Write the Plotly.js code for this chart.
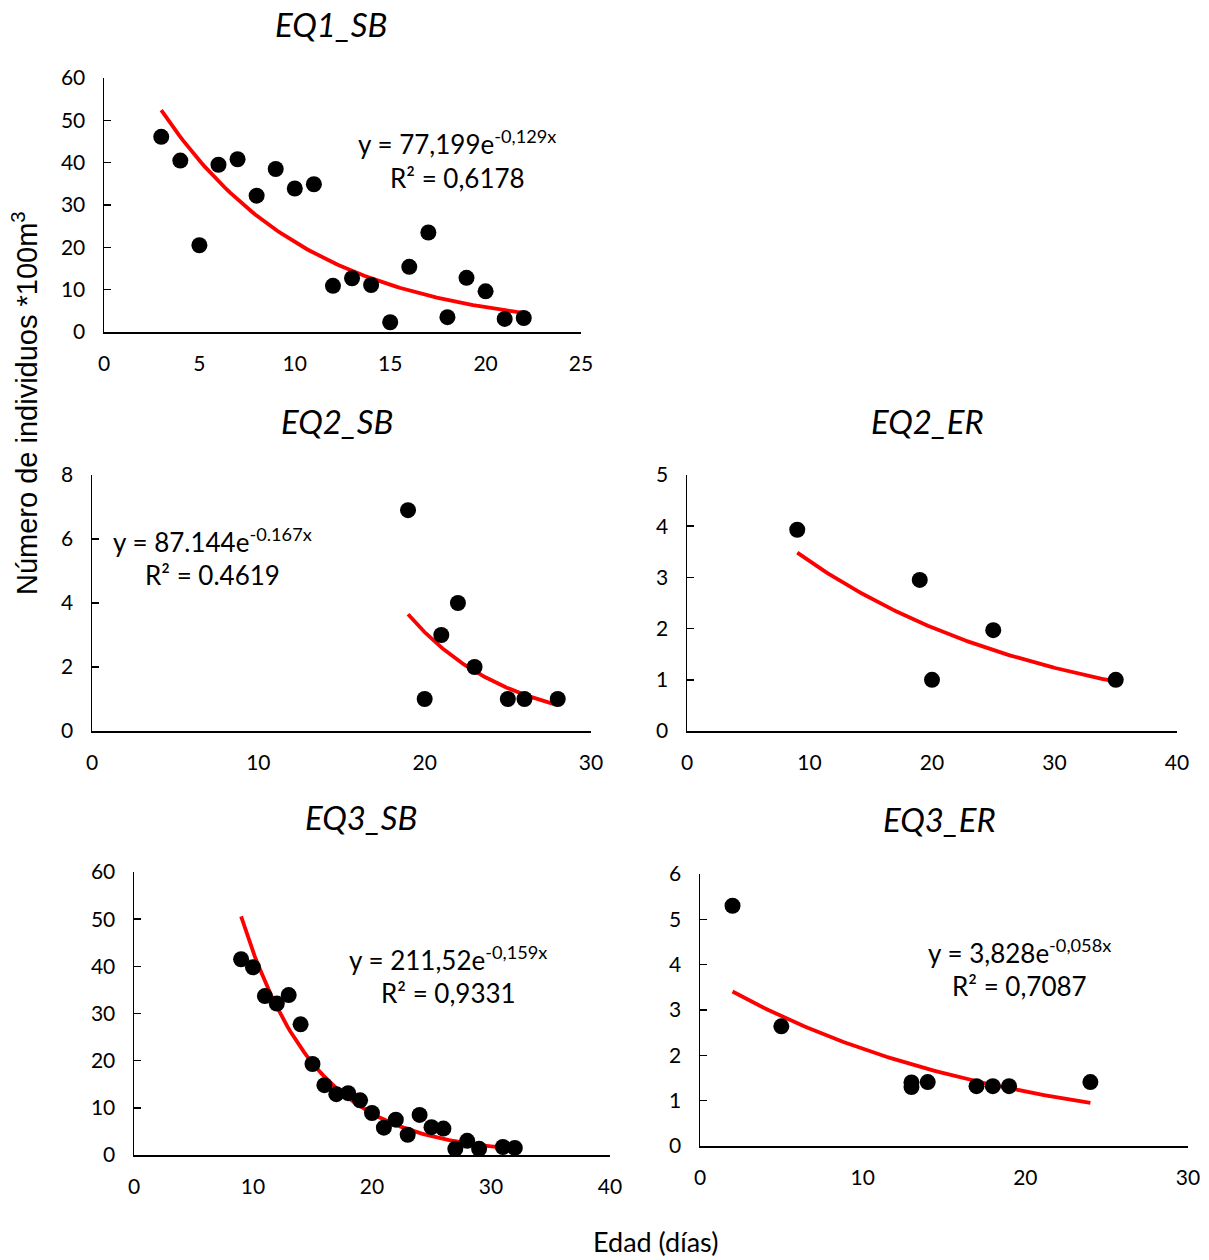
<!DOCTYPE html>
<html>
<head>
<meta charset="utf-8">
<script src="https://cdn.plot.ly/plotly-3.0.1.min.js"></script>
<style>html,body{margin:0;padding:0;background:#fff;}#chart{width:1209px;height:1260px;}</style>
</head>
<body>
<div id="chart"></div>
<script>
// ---- Data ----
const eq1sbX = [3,4,5,6,7,8,9,10,11,12,13,14,15,16,17,18,19,20,21,22];
const eq1sbY = [46.1,40.5,20.5,39.5,40.8,32.2,38.5,33.9,34.9,10.9,12.7,11.1,2.3,15.4,23.5,3.5,12.8,9.6,3.1,3.3];

const eq2sbX = [19,20,21,22,23,25,26,28];
const eq2sbY = [6.9,1,3,4,2,1,1,1];

const eq2erX = [9,19,20,25,35];
const eq2erY = [3.93,2.95,1,1.97,1];

const eq3sbX = [9,10,11,12,13,14,15,16,17,18,19,20,21,22,23,24,25,26,27,28,29,31,32];
const eq3sbY = [41.5,39.8,33.7,32.1,33.9,27.7,19.3,14.8,12.9,13.1,11.6,8.9,5.8,7.5,4.3,8.5,5.9,5.6,1.3,3.0,1.3,1.7,1.5];

const eq3erX = [2,5,13,13,14,17,18,19,24];
const eq3erY = [5.3,2.64,1.30,1.40,1.41,1.32,1.32,1.32,1.41];

// Trendline coefficients (y = A e^(B x)) as printed on the chart
const fitA = {eq1sb: 77.199, eq2sb: 87.144, eq3sb: 211.52, eq3er: 3.828};
const fitB = {eq1sb: -0.129, eq2sb: -0.167, eq3sb: -0.159, eq3er: -0.058};

const titles = ['EQ1_SB','EQ2_SB','EQ2_ER','EQ3_SB','EQ3_ER'];
const eqTexts = ['y = 77,199e<sup>-0,129x</sup>','y = 87.144e<sup>-0.167x</sup>','y = 211,52e<sup>-0,159x</sup>','y = 3,828e<sup>-0,058x</sup>'];
const r2Texts = ['R² = 0,6178','R² = 0.4619','R² = 0,9331','R² = 0,7087'];
const yTitle = 'Número de individuos *100m<sup>3</sup>';
const xTitle = 'Edad (días)';

// exponential least squares fit (log-linear), as Excel does
function expFit(xs, ys){
  const n = xs.length; const ls = ys.map(Math.log);
  const mx = xs.reduce((a,b)=>a+b,0)/n, ml = ls.reduce((a,b)=>a+b,0)/n;
  let sxy=0, sxx=0;
  for(let i=0;i<n;i++){sxy+=(xs[i]-mx)*(ls[i]-ml); sxx+=(xs[i]-mx)*(xs[i]-mx);}
  const b = sxy/sxx; return {A: Math.exp(ml-b*mx), B: b};
}
const fit2er = expFit(eq2erX, eq2erY);

function curve(xs, A, B){
  const x0 = Math.min(...xs), x1 = Math.max(...xs);
  const cx=[], cy=[];
  for(let i=0;i<=100;i++){const x=x0+(x1-x0)*i/100; cx.push(x); cy.push(A*Math.exp(B*x));}
  return {cx, cy};
}

const W = 1209, H = 1260;
const px = v => v/W, py = v => 1 - v/H;

const panels = [
  {x: eq1sbX, y: eq1sbY, A: fitA.eq1sb, B: fitB.eq1sb, xr:[0,25], xd:5, yr:[0,60], yd:10, dom:[104,581,78,332]},
  {x: eq2sbX, y: eq2sbY, A: fitA.eq2sb, B: fitB.eq2sb, xr:[0,30], xd:10, yr:[0,8], yd:2, dom:[92,591,475,731]},
  {x: eq2erX, y: eq2erY, A: fit2er.A, B: fit2er.B, xr:[0,40], xd:10, yr:[0,5], yd:1, dom:[687,1177,475,731]},
  {x: eq3sbX, y: eq3sbY, A: fitA.eq3sb, B: fitB.eq3sb, xr:[0,40], xd:10, yr:[0,60], yd:10, dom:[134,610,872,1155]},
  {x: eq3erX, y: eq3erY, A: fitA.eq3er, B: fitB.eq3er, xr:[0,30], xd:10, yr:[0,6], yd:1, dom:[700,1188,874,1146]}
];

const FONT = 'Lato, "Open Sans", sans-serif';
const traces = [];
const layout = {
  width: W, height: H, margin:{l:0,r:0,t:0,b:0},
  paper_bgcolor:'#fff', plot_bgcolor:'#fff', showlegend:false,
  font:{family: FONT, color:'#000', size:20},
  annotations: []
};

panels.forEach((p, i) => {
  const n = i===0 ? '' : String(i+1);
  const c = curve(p.x, p.A, p.B);
  traces.push({type:'scatter', mode:'lines', x:c.cx, y:c.cy, xaxis:'x'+n, yaxis:'y'+n,
    line:{color:'#ff0000', width:3.8}, hoverinfo:'skip'});
  traces.push({type:'scatter', mode:'markers', x:p.x, y:p.y, xaxis:'x'+n, yaxis:'y'+n,
    marker:{color:'#000', size:16}, cliponaxis:false});
  const [l, r, t, b] = p.dom;
  layout['xaxis'+n] = {domain:[px(l), px(r)], range:p.xr, dtick:p.xd, tick0:0, anchor:'y'+n,
    showline:true, linecolor:'#000', linewidth:1.5, showgrid:false, zeroline:false,
    ticks:'', ticklabelstandoff:12, tickfont:{family:FONT, size:21, color:'#000'}, fixedrange:true};
  layout['yaxis'+n] = {domain:[py(b), py(t)], range:p.yr, dtick:p.yd, tick0:0, anchor:'x'+n,
    showline:true, linecolor:'#000', linewidth:1.5, showgrid:false, zeroline:false,
    ticks:'inside', ticklen:7, tickwidth:1.5, tickcolor:'#000', ticklabelstandoff:13,
    tickfont:{family:FONT, size:21, color:'#000'}, fixedrange:true};
});

// panel titles
const titlePos = [[331,24],[337,421],[927,421],[361,817],[939,819]];
titles.forEach((t,i)=>{
  layout.annotations.push({xref:'paper', yref:'paper', x:px(titlePos[i][0]), y:py(titlePos[i][1]),
    xanchor:'center', yanchor:'middle', showarrow:false, text:'<i>'+t+'</i>',
    font:{family:FONT, size:33, color:'#000'}});
});

// equations
const eqPos = [[457,142,178],[212,540,575],[448,958,993],[1019,951,986]];
eqTexts.forEach((t,i)=>{
  layout.annotations.push({xref:'paper', yref:'paper', x:px(eqPos[i][0]), y:py(eqPos[i][1]),
    xanchor:'center', yanchor:'middle', showarrow:false, text:t, font:{family:FONT, size:26, color:'#000'}});
  layout.annotations.push({xref:'paper', yref:'paper', x:px(eqPos[i][0]), y:py(eqPos[i][2]),
    xanchor:'center', yanchor:'middle', showarrow:false, text:r2Texts[i], font:{family:FONT, size:26, color:'#000'}});
});

// global axis titles
layout.annotations.push({xref:'paper', yref:'paper', x:px(25), y:py(403), textangle:-90,
  xanchor:'center', yanchor:'middle', showarrow:false, text:yTitle,
  font:{family:'"Liberation Sans", Arial, sans-serif', size:29, color:'#000'}});
layout.annotations.push({xref:'paper', yref:'paper', x:px(655), y:py(1241),
  xanchor:'center', yanchor:'middle', showarrow:false, text:xTitle,
  font:{family:FONT, size:27, color:'#000'}});

Plotly.newPlot('chart', traces, layout, {staticPlot:true, displayModeBar:false});
</script>
</body>
</html>
